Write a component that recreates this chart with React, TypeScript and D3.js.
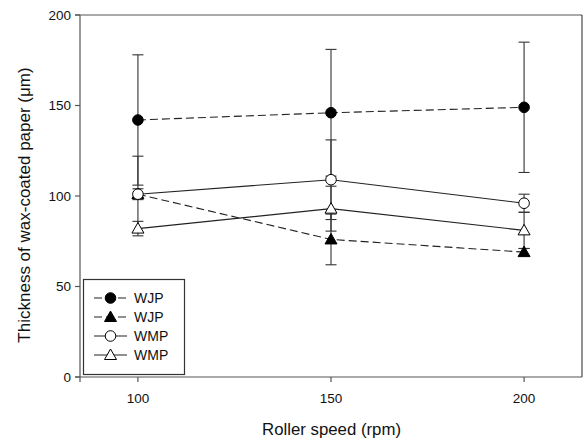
import React from "react";
import * as d3 from "d3";

const speeds = [100, 150, 200];
const xTicks = [100, 150, 200];
const yTicks = [0, 50, 100, 150, 200];

const wjpCircleMean = [142, 146, 149];
const wjpCircleErr = [36, 35, 36];
const wjpTriMean = [101, 76, 69];
const wjpTriErr = [3, 14, 2];
const wmpCircleMean = [101, 109, 96];
const wmpCircleErr = [21, 22, 5];
const wmpTriMean = [82, 93, 81];
const wmpTriErr = [4, 12.4, 10];

const legendLabels = ["WJP", "WJP", "WMP", "WMP"];

type S = { mean: number[]; err: number[]; shape: "circle" | "tri"; fill: string; dashed: boolean; label: string };
const series: S[] = [
  { mean: wjpCircleMean, err: wjpCircleErr, shape: "circle", fill: "#000", dashed: true, label: legendLabels[0] },
  { mean: wjpTriMean, err: wjpTriErr, shape: "tri", fill: "#000", dashed: true, label: legendLabels[1] },
  { mean: wmpCircleMean, err: wmpCircleErr, shape: "circle", fill: "#fff", dashed: false, label: legendLabels[2] },
  { mean: wmpTriMean, err: wmpTriErr, shape: "tri", fill: "#fff", dashed: false, label: legendLabels[3] },
];

const W = 584, H = 441;
const L = 80, R = 582, T = 15, B = 377;
const font = "Liberation Sans, Arial, sans-serif";

function Marker({ shape, fill, cx, cy }: { shape: string; fill: string; cx: number; cy: number }) {
  if (shape === "circle") return <circle cx={cx} cy={cy} r={5.3} fill={fill} stroke="#000" strokeWidth={1} />;
  const s = 6;
  const pts = `${cx},${cy - s} ${cx + s},${cy + s * 0.75} ${cx - s},${cy + s * 0.75}`;
  return <polygon points={pts} fill={fill} stroke="#000" strokeWidth={1} />;
}

export default function App() {
  const x = d3.scaleLinear().domain([85, 215]).range([L, R]);
  const y = d3.scaleLinear().domain([0, 200]).range([B, T]);
  const axisColor = "#555";
  const lineGen = (m: number[]) =>
    d3.line<number>().x((_, i) => x(speeds[i])).y((v) => y(v))(m) || "";

  return (
    <svg width={W} height={H} style={{ position: "absolute", left: 0, top: 0, background: "#fff" }}>
      {/* frame */}
      <line x1={L - 5} x2={R} y1={T} y2={T} stroke={axisColor} strokeWidth={1.2} />
      <line x1={R} x2={R} y1={T} y2={B} stroke="#222" strokeWidth={1} />
      <line x1={L - 5} x2={R} y1={B} y2={B} stroke={axisColor} strokeWidth={1.2} />
      <line x1={L} x2={L} y1={T} y2={B + 5} stroke={axisColor} strokeWidth={1.2} />
      {yTicks.map((t) => (
        <g key={t}>
          <line x1={L - 5} x2={L} y1={y(t)} y2={y(t)} stroke={axisColor} strokeWidth={1.2} />
          <text x={L - 9} y={y(t) + 4.7} textAnchor="end" fontSize={13.5} fontFamily={font} fill="#111">{t}</text>
        </g>
      ))}
      {xTicks.map((t) => (
        <g key={t}>
          <line x1={x(t)} x2={x(t)} y1={B} y2={B + 5} stroke={axisColor} strokeWidth={1.2} />
          <text x={x(t)} y={B + 26} textAnchor="middle" fontSize={13.5} fontFamily={font} fill="#111">{t}</text>
        </g>
      ))}
      <text x={331.5} y={435} textAnchor="middle" fontSize={16.8} fontFamily={font} fill="#111">Roller speed (rpm)</text>
      <text transform={`translate(30,205) rotate(-90)`} textAnchor="middle" fontSize={17} fontFamily={font} fill="#111">
        Thickness of wax-coated paper (μm)
      </text>
      {/* error bars */}
      {series.map((s, si) => (
        <g key={"e" + si}>
          {s.mean.map((m, i) => {
            const cx = x(speeds[i]);
            return (
              <g key={i}>
                <line x1={cx} x2={cx} y1={y(m - s.err[i])} y2={y(m + s.err[i])} stroke="#333" strokeWidth={1.1} />
                <line x1={cx - 5.5} x2={cx + 5.5} y1={y(m - s.err[i])} y2={y(m - s.err[i])} stroke="#333" strokeWidth={1.1} />
                <line x1={cx - 5.5} x2={cx + 5.5} y1={y(m + s.err[i])} y2={y(m + s.err[i])} stroke="#333" strokeWidth={1.1} />
              </g>
            );
          })}
        </g>
      ))}
      {/* lines */}
      {series.map((s, si) => (
        <path key={"l" + si} d={lineGen(s.mean)} fill="none" stroke="#222" strokeWidth={1.1}
          strokeDasharray={s.dashed ? "8,4" : undefined} />
      ))}
      {/* markers */}
      {series.map((s, si) => (
        <g key={"m" + si}>
          {s.mean.map((m, i) => (
            <Marker key={i} shape={s.shape} fill={s.fill} cx={x(speeds[i])} cy={y(m)} />
          ))}
        </g>
      ))}
      {/* legend */}
      <rect x={83.5} y={279.5} width={101} height={95} fill="#fff" stroke="#333" strokeWidth={1.2} />
      {series.map((s, i) => {
        const ly = 298 + i * 19;
        return (
          <g key={"lg" + i}>
            <line x1={94} x2={127} y1={ly} y2={ly} stroke="#222" strokeWidth={1.1}
              strokeDasharray={s.dashed ? "8,4" : undefined} />
            <Marker shape={s.shape} fill={s.fill} cx={110.5} cy={ly} />
            <text x={134} y={ly + 5} fontSize={14} fontFamily={font} fill="#111">{s.label}</text>
          </g>
        );
      })}
    </svg>
  );
}
